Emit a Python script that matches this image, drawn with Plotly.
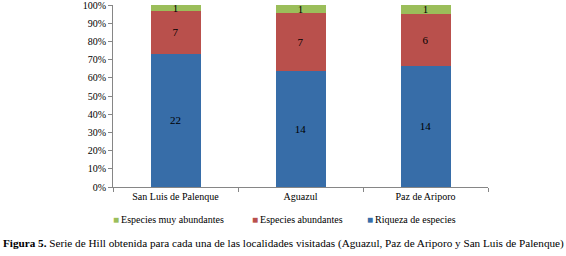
import plotly.graph_objects as go

localidades = ["San Luis de Palenque", "Aguazul", "Paz de Ariporo"]
riqueza = [22, 14, 14]
abundantes = [7, 7, 6]
muy_abundantes = [1, 1, 1]
y_ticks = [0, 10, 20, 30, 40, 50, 60, 70, 80, 90, 100]
y_ticklabels = [f"{v}%" for v in y_ticks]

FONT = "Liberation Serif, Times New Roman, serif"
series = [
    ("Riqueza de especies", riqueza, "#376DA8"),
    ("Especies abundantes", abundantes, "#B9504C"),
    ("Especies muy abundantes", muy_abundantes, "#9BBE5A"),
]

L, R, T, B = 113, 78, 5, 69
W, H = 566, 256
PW, PH = W - L - R, H - T - B

fig = go.Figure()
for name, vals, color in series:
    fig.add_trace(go.Bar(
        x=localidades, y=vals, name=name,
        marker=dict(color=color, line=dict(width=0)),
        text=vals, texttemplate="%{text}", textposition="inside",
        insidetextanchor="middle", textangle=0, constraintext="none",
        textfont=dict(family=FONT, size=11, color="black"),
        showlegend=False, hoverinfo="skip",
    ))

fig.update_layout(
    barmode="stack", barnorm="percent", bargap=0.6,
    width=W, height=H,
    margin=dict(l=L, r=R, t=T, b=B, autoexpand=False),
    paper_bgcolor="white", plot_bgcolor="white",
    font=dict(family=FONT, size=10, color="black"),
    xaxis=dict(showline=True, linecolor="#868686", linewidth=1,
               ticks="outside", tickson="boundaries", ticklen=4, tickcolor="#868686",
               tickfont=dict(family=FONT, size=10), showgrid=False, automargin=False),
    yaxis=dict(range=[0, 100], tickvals=y_ticks, ticktext=y_ticklabels,
               showline=True, linecolor="#868686", linewidth=1,
               ticks="outside", ticklen=4, tickcolor="#868686", ticklabeloverflow="allow",
               tickfont=dict(family=FONT, size=10), showgrid=False, zeroline=False,
               automargin=False),
)

# legend (reversed order), drawn as text entries with coloured square glyphs
legend_px = [111, 250, 365]
legend_y_px = 219
for (name, vals, color), px in zip(reversed(series), legend_px):
    fig.add_annotation(
        text=f"<span style='color:{color}'>■</span>\u2009{name}",
        xref="paper", yref="paper", x=(px - L) / PW, xanchor="left",
        y=-(legend_y_px - (H - B)) / PH, yanchor="middle",
        showarrow=False, font=dict(family=FONT, size=10, color="black"),
    )

fig.add_annotation(
    text="<b>Figura 5.</b> Serie de Hill obtenida para cada una de las localidades visitadas (Aguazul, Paz de Ariporo y San Luis de Palenque)",
    xref="paper", yref="paper", x=(1 - L) / PW, xanchor="left",
    y=-(243 - (H - B)) / PH, yanchor="middle",
    showarrow=False, font=dict(family=FONT, size=11.2, color="black"),
)

fig.write_html("out.html", config={"displayModeBar": False},
               post_script="document.body.style.margin='0';document.body.style.padding='0';")
